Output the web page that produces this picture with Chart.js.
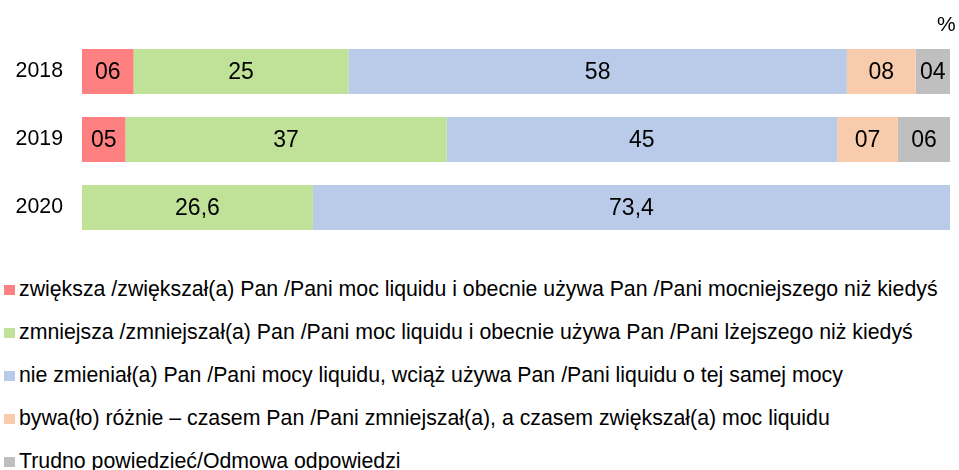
<!DOCTYPE html>
<html lang="pl">
<head>
<meta charset="utf-8">
<title>Moc liquidu</title>
<script src="https://cdn.jsdelivr.net/npm/chart.js@4/dist/chart.umd.min.js"></script>
<style>
    body { margin: 0; background: #fff; font-family: "Liberation Sans", Arial, sans-serif; color: #000; }
    #wrap { position: relative; width: 959px; height: 470px; overflow: hidden; }
    #chart { position: absolute; left: 0; top: 0; }
    .unit { position: absolute; left: 937px; top: 11px; font-size: 21px; line-height: 26px; }
    #legend { position: absolute; left: 0; top: 268px; }
    .legend-row { display: flex; align-items: center; height: 43px; font-size: 21.3px; white-space: nowrap; }
    .legend-box { width: 11px; height: 10px; margin: 1px 4px 0 4px; flex: none; }
</style>
</head>
<body>
<div id="wrap">
    <canvas id="chart" width="959" height="250"></canvas>
    <span class="unit">%</span>
    <div id="legend"></div>
</div>
<script>
var years = ['2018', '2019', '2020'];

var seriesNames = [
    'zwiększa /zwiększał(a) Pan /Pani moc liquidu i obecnie używa Pan /Pani mocniejszego niż kiedyś',
    'zmniejsza /zmniejszał(a) Pan /Pani moc liquidu i obecnie używa Pan /Pani lżejszego niż kiedyś',
    'nie zmieniał(a) Pan /Pani mocy liquidu, wciąż używa Pan /Pani liquidu o tej samej mocy',
    'bywa(ło) różnie – czasem Pan /Pani zmniejszał(a), a czasem zwiększał(a) moc liquidu',
    'Trudno powiedzieć/Odmowa odpowiedzi'
];
var seriesColors = ['#FF8080', '#BFE198', '#BACBE9', '#F8CBAD', '#BFBFBF'];

// values per year, as printed on the bars
var increased = [6, 5, null];
var decreased = [25, 37, 26.6];
var unchanged = [58, 45, 73.4];
var varied = [8, 7, null];
var noAnswer = [4, 6, null];

var seriesValues = [increased, decreased, unchanged, varied, noAnswer];

// 100% stacked: each year's bar is scaled to its own total
var totals = years.map(function(y, j) {
    return seriesValues.reduce(function(sum, s) { return sum + (s[j] || 0); }, 0);
});

function formatValue(v) {
    if (Math.round(v) === v) {
        return (v < 10 ? '0' : '') + v;
    }
    return v.toFixed(1).replace('.', ',');
}

var barLabels = {
    id: 'barLabels',
    afterDatasetsDraw: function(chart) {
        var ctx = chart.ctx;
        ctx.save();
        ctx.font = '23px "Liberation Sans", Arial, sans-serif';
        ctx.fillStyle = '#000';
        ctx.textAlign = 'center';
        ctx.textBaseline = 'middle';
        chart.data.datasets.forEach(function(ds, i) {
            chart.getDatasetMeta(i).data.forEach(function(bar, j) {
                var raw = ds.rawValues[j];
                if (!raw) return;
                var p = bar.getProps(['x', 'y', 'base'], true);
                ctx.fillText(formatValue(raw), (p.x + p.base) / 2, p.y + 1);
            });
        });
        ctx.restore();
    }
};

new Chart(document.getElementById('chart'), {
    type: 'bar',
    data: {
        labels: years,
        datasets: seriesValues.map(function(s, i) {
            return {
                label: seriesNames[i],
                rawValues: s,
                data: s.map(function(v, j) { return v === null ? null : v / totals[j] * 100; }),
                backgroundColor: seriesColors[i],
                borderWidth: 0,
                categoryPercentage: 0.662,
                barPercentage: 1
            };
        })
    },
    options: {
        indexAxis: 'y',
        responsive: false,
        animation: false,
        layout: { padding: { top: 37.5, bottom: 8.5, left: 0, right: 9 } },
        scales: {
            x: {
                stacked: true,
                display: false,
                min: 0,
                max: 100
            },
            y: {
                stacked: true,
                grid: { display: false, drawTicks: false },
                border: { display: false },
                ticks: {
                    padding: 19,
                    color: '#000',
                    font: { size: 21.3, family: "'Liberation Sans', Arial, sans-serif" }
                },
                afterFit: function(scale) {
                    // fixed axis width, and no extra room for the labels above/below
                    scale.width = 82;
                    scale.paddingTop = 0;
                    scale.paddingBottom = 0;
                }
            }
        },
        plugins: {
            legend: { display: false },
            tooltip: { enabled: false }
        }
    },
    plugins: [barLabels]
});

// legend, one series per row
var legendEl = document.getElementById('legend');
seriesNames.forEach(function(name, i) {
    var row = document.createElement('div');
    row.className = 'legend-row';
    var box = document.createElement('span');
    box.className = 'legend-box';
    box.style.background = seriesColors[i];
    var text = document.createElement('span');
    text.textContent = name;
    row.appendChild(box);
    row.appendChild(text);
    legendEl.appendChild(row);
});
</script>
</body>
</html>
